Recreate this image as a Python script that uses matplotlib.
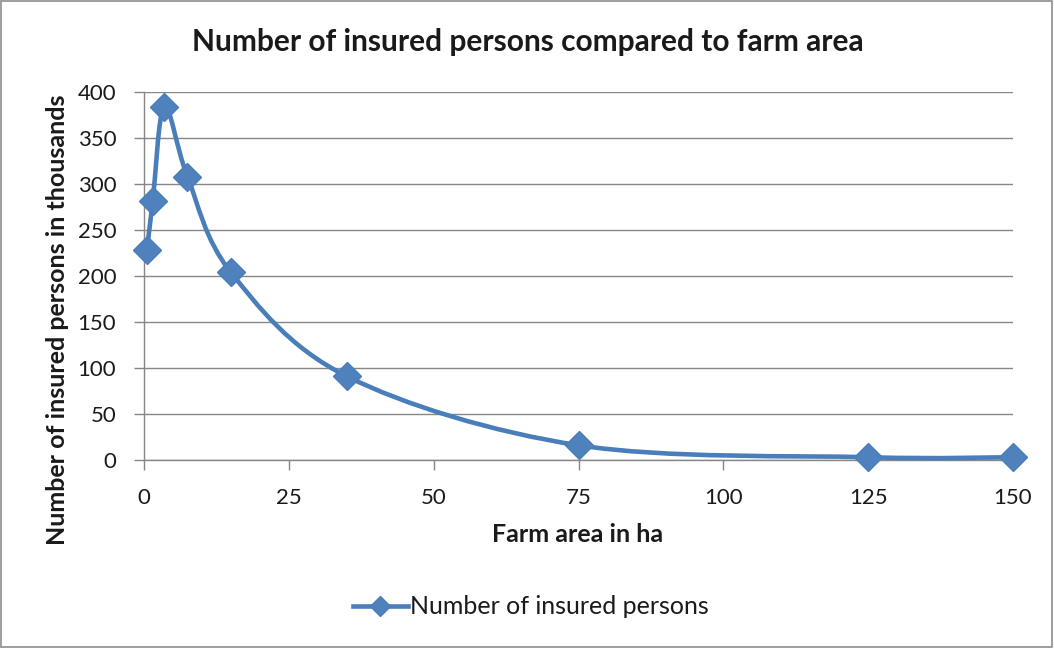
import numpy as np
import matplotlib
matplotlib.use("Agg")
import matplotlib.pyplot as plt
from matplotlib.path import Path
from matplotlib.patches import PathPatch, Rectangle
from matplotlib.lines import Line2D

# farm size classes (ha) and insured persons (thousands)
farm_area = [0.5, 1.5, 3.5, 7.5, 15, 35, 75, 125, 150]
insured = [228, 281, 384, 308, 204, 91, 16, 3, 3]

x_ticks = [0, 25, 50, 75, 100, 125, 150]
y_ticks = [0, 50, 100, 150, 200, 250, 300, 350, 400]

LINE = "#4A7EBB"
MARK = "#4F81BD"
GRID = "#868686"
TEXT = "#1a1a1a"

plt.rcParams["font.family"] = ["Lato", "DejaVu Sans"]


def smooth_path(xs, ys, tension=1/6):
    # spreadsheet-style smoothed line: cubic bezier through every point
    pts = np.column_stack([xs, ys]).astype(float)
    ext = np.vstack([pts[0], pts, pts[-1]])
    verts = [pts[0]]
    codes = [Path.MOVETO]
    for i in range(1, len(ext) - 2):
        p0, p1, p2, p3 = ext[i - 1], ext[i], ext[i + 1], ext[i + 2]
        c1 = p1 + (p2 - p0) * tension
        c2 = p2 - (p3 - p1) * tension
        verts += [c1, c2, p2]
        codes += [Path.CURVE4] * 3
    return Path(verts, codes)


fig = plt.figure(figsize=(10.54, 6.48), dpi=100)
ax = fig.add_axes([144 / 1054, 1 - 460 / 648, (1013 - 144) / 1054, (460 - 92) / 648])

ax.add_patch(PathPatch(smooth_path(farm_area, insured), fill=False, clip_on=False,
                       edgecolor=LINE, lw=3.3, capstyle="round", zorder=3))
ax.plot(farm_area, insured, ls="none", marker="D", ms=14, clip_on=False,
        color=MARK, mec=LINE, mew=1, zorder=4)

ax.set_xlim(0, 150)
ax.set_ylim(0, 400)
ax.set_xticks(x_ticks)
ax.set_yticks(y_ticks)
ax.yaxis.grid(True, color=GRID, lw=1)
ax.set_axisbelow(True)
for s in ["top", "right"]:
    ax.spines[s].set_visible(False)
for s in ["left", "bottom"]:
    ax.spines[s].set_color(GRID)
    ax.spines[s].set_linewidth(1)
ax.tick_params(axis="both", colors=GRID, labelcolor=TEXT, labelsize=16,
               length=7, width=1, pad=13)

fig.text(528 / 1054, 1 - 42 / 648, "Number of insured persons compared to farm area",
         ha="center", va="center", fontsize=21.5, fontweight="bold", color=TEXT)
fig.text(578 / 1054, 1 - 535 / 648, "Farm area in ha",
         ha="center", va="center", fontsize=18, fontweight="bold", color=TEXT)
fig.text(58 / 1054, 1 - 320 / 648, "Number of insured persons in thousands",
         ha="center", va="center", rotation=90, fontsize=18, fontweight="bold", color=TEXT)

handle = Line2D([], [], color=LINE, lw=3.3, marker="D", ms=10, mfc=MARK, mec=LINE)
fig.legend([handle], ["Number of insured persons"], loc="center",
           bbox_to_anchor=(531 / 1054, 1 - 607 / 648), frameon=False,
           fontsize=18, handlelength=2.2, handletextpad=0.1,
           labelcolor=TEXT)

fig.patches.append(Rectangle((0.001, 0.002), 0.997, 0.996, transform=fig.transFigure,
                             fill=False, edgecolor="#8c8c8c", lw=1.2))

fig.savefig("out.png", dpi=100, facecolor="white")
